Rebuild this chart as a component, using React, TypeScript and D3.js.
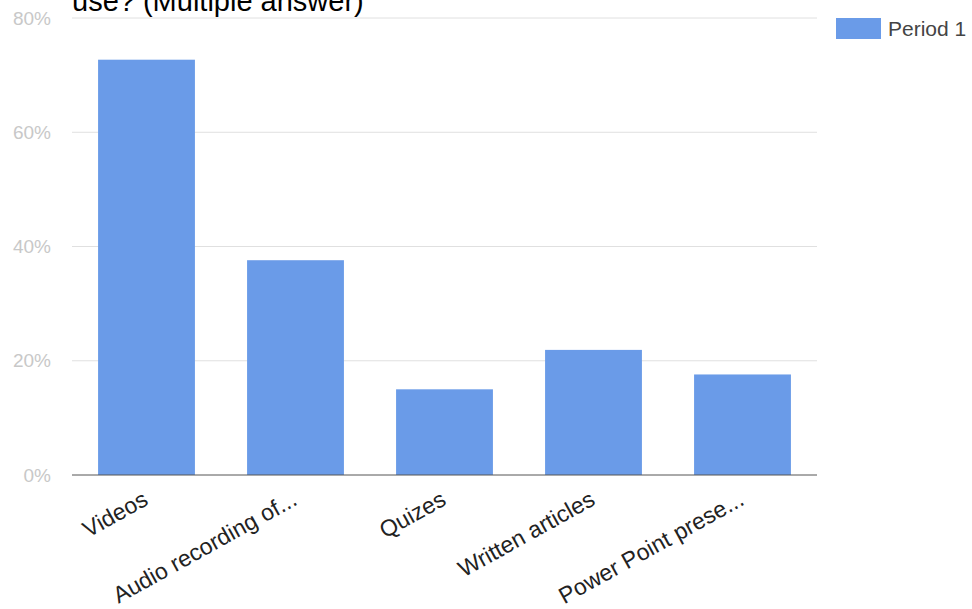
import React from "react";
import * as d3 from "d3";

const categories = ["Videos", "Audio recording of...", "Quizes", "Written articles", "Power Point prese..."];
const period1 = [72.7, 37.6, 15.0, 21.9, 17.6];
const yTicks = [0, 20, 40, 60, 80];
const seriesName = "Period 1";
const titleLine = "use? (Multiple answer)";

const W = 972;
const H = 609;
const left = 72;
const right = 817;
const top = 18;
const bottom = 475;

export default function App() {
  const x = d3.scaleBand<string>().domain(categories).range([left, right]).paddingInner(0.35).paddingOuter(0.175);
  const y = d3.scaleLinear().domain([0, 80]).range([bottom, top]);
  return (
    <svg width={W} height={H} style={{ position: "absolute", left: 0, top: 0, background: "#fff" }} fontFamily="Arial, 'Liberation Sans', sans-serif">
      <text x={72} y={11} fontSize={29} fill="#000">{titleLine}</text>
      {yTicks.map((t) => (
        <g key={t}>
          {t > 0 && <line x1={left} x2={right} y1={y(t)} y2={y(t)} stroke="#e0e0e0" strokeWidth={1} />}
          <text x={51} y={y(t)} dy="0.35em" textAnchor="end" fontSize={19} fill="#c8c8c8">{t + "%"}</text>
        </g>
      ))}
      {categories.map((c, i) => (
        <rect key={c} x={x(c)} y={y(period1[i])} width={x.bandwidth()} height={y(0) - y(period1[i])} fill="#6a9be8" />
      ))}
      <line x1={left} x2={right} y1={y(0)} y2={y(0)} stroke="#555" strokeWidth={1} />
      {categories.map((c) => {
        const cx = (x(c) as number) + x.bandwidth() / 2;
        return (
          <text key={c} transform={`translate(${cx + 3},${504}) rotate(-29)`} textAnchor="end" fontSize={23} fill="#222">{c}</text>
        );
      })}
      <rect x={836} y={18} width={45} height={21} fill="#6a9be8" />
      <text x={888} y={28.5} dy="0.35em" fontSize={21} fill="#444">{seriesName}</text>
    </svg>
  );
}
